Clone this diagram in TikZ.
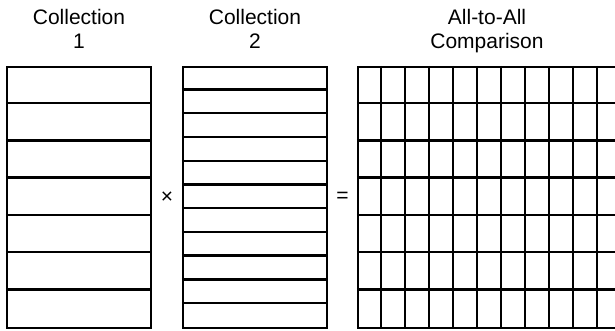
\documentclass[tikz,border=0pt]{standalone}
\usepackage{fontspec}
\setmainfont{Liberation Sans}
\usetikzlibrary{positioning}

\begin{document}
\begin{tikzpicture}[x=1pt, y=-1pt,
  every node/.style={font=\fontsize{21}{23.5}\selectfont},
  heading/.style={align=center, anchor=base},
  collbox/.style={draw, line width=2.4pt, inner sep=0pt,
    minimum width=144pt, minimum height=261pt},
  gridbox/.style={draw, line width=2.4pt, inner sep=0pt,
    minimum width=264pt, minimum height=261pt},
  sep/.style={line width=2.4pt},
  op/.style={inner sep=0pt},
]
\useasboundingbox (0,0) rectangle (615,330);
\clip (0,0) rectangle (615,330);

\node[heading] at ( 79, 48.3) (head1) {Collection\\1};
\node[heading] at (255, 48.3) (head2) {Collection\\2};
\node[heading] at (487, 48.3) (head3) {All-to-All\\Comparison};

\node[collbox] at ( 79, 197.5) (coll1) {};
\node[collbox] at (255, 197.5) (coll2) {};
\node[gridbox] at (490, 197.5) (allpairs) {};

\node[op] at (167, 197.5) (times)  {×};
\node[op] at (342.5, 197.5) (equals) {=};

% rows of the first collection and of the comparison
\foreach \k in {1,...,6} {
  \draw[sep] (coll1.north west) ++(0,\k*37.29) -- ++(144,0);
  \draw[sep] (allpairs.north west) ++(0,\k*37.29) -- ++(264,0);
}
% rows of the second collection
\foreach \k in {1,...,10}
  \draw[sep] (coll2.north west) ++(0,\k*23.73) -- ++(144,0);
% columns of the comparison
\foreach \k in {1,...,10}
  \draw[sep] (allpairs.north west) ++(\k*24,0) -- ++(0,261);
\end{tikzpicture}
\end{document}
